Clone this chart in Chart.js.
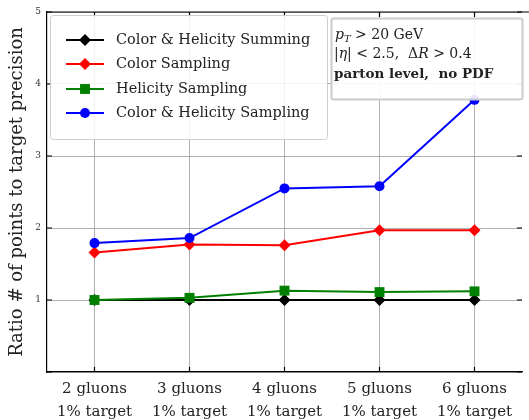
<!DOCTYPE html>
<html>
<head>
<meta charset="utf-8">
<script src="https://cdn.jsdelivr.net/npm/chart.js@4/dist/chart.umd.min.js"></script>
<style>
    html, body { margin: 0; padding: 0; background: #fff; }
    #wrap { width: 529px; height: 420px; position: relative; }
</style>
</head>
<body>
<div id="wrap"><canvas id="ratioChart"></canvas></div>
<script>
// Data
const categories = [
    ['2 gluons', '1% target'],
    ['3 gluons', '1% target'],
    ['4 gluons', '1% target'],
    ['5 gluons', '1% target'],
    ['6 gluons', '1% target']
];
const seriesNames = ['Color & Helicity Summing', 'Color Sampling', 'Helicity Sampling', 'Color & Helicity Sampling'];
const summing = [1.00, 1.00, 1.00, 1.00, 1.00];
const colorSampling = [1.66, 1.77, 1.76, 1.97, 1.97];
const helicitySampling = [1.00, 1.03, 1.13, 1.11, 1.12];
const colorHelicitySampling = [1.79, 1.86, 2.55, 2.58, 3.78];
const yTickValues = [0, 1, 2, 3, 4, 5];

const SERIF = '"DejaVu Serif", "Liberation Serif", serif';

function makeSet(label, data, color, shape, radius, order) {
    return {
        label: label,
        data: data,
        borderColor: color,
        backgroundColor: color,
        borderWidth: 2,
        pointStyle: shape,
        pointRadius: radius,
        pointHoverRadius: radius,
        pointBorderWidth: 0,
        tension: 0,
        order: order
    };
}

const datasets = [
    makeSet(seriesNames[0], summing, '#000000', 'rectRot', 6, 4),
    makeSet(seriesNames[1], colorSampling, '#ff0000', 'rectRot', 6, 3),
    makeSet(seriesNames[2], helicitySampling, '#008000', 'rect', 7, 2),
    makeSet(seriesNames[3], colorHelicitySampling, '#0000ff', 'circle', 5, 1)
];

function drawRuns(ctx, runs, x, y) {
    let cx = x;
    runs.forEach(r => {
        ctx.font = r.font;
        ctx.fillText(r.text, cx, y + (r.dy || 0));
        cx += ctx.measureText(r.text).width;
    });
}

// frame ticks, legend and the cut box
const decorPlugin = {
    id: 'decor',
    afterDraw(chart) {
        const ctx = chart.ctx;
        const area = chart.chartArea;
        const xs = chart.scales.x;
        const ys = chart.scales.y;
        ctx.save();
        ctx.strokeStyle = '#000';
        ctx.lineWidth = 1.2;
        // top frame line
        ctx.beginPath();
        ctx.moveTo(area.left, area.top);
        ctx.lineTo(chart.width, area.top);
        ctx.stroke();
        // inward ticks
        ctx.beginPath();
        for (let i = 0; i < categories.length; i++) {
            const px = xs.getPixelForValue(i);
            ctx.moveTo(px, area.bottom); ctx.lineTo(px, area.bottom - 5);
            ctx.moveTo(px, area.top); ctx.lineTo(px, area.top + 5);
        }
        yTickValues.forEach(v => {
            const py = ys.getPixelForValue(v);
            ctx.moveTo(area.left, py); ctx.lineTo(area.left + 5, py);
            ctx.moveTo(area.right, py); ctx.lineTo(area.right - 5, py);
        });
        ctx.stroke();

        // legend
        const lx = 50, ly = 15, lw = 277, lh = 124;
        ctx.beginPath();
        ctx.roundRect(lx + 0.5, ly + 0.5, lw, lh, 3);
        ctx.fillStyle = 'rgba(255,255,255,0.85)';
        ctx.fill();
        ctx.strokeStyle = '#cccccc';
        ctx.lineWidth = 1;
        ctx.stroke();
        const rowY = [40, 64, 89, 113];
        datasets.forEach((ds, i) => {
            const y = rowY[i];
            ctx.strokeStyle = ds.borderColor;
            ctx.lineWidth = 2;
            ctx.beginPath();
            ctx.moveTo(66, y); ctx.lineTo(104, y);
            ctx.stroke();
            ctx.fillStyle = ds.backgroundColor;
            Chart.helpers.drawPoint(ctx, {
                pointStyle: ds.pointStyle, radius: ds.pointRadius, rotation: 0, borderWidth: 0
            }, 85, y);
            ctx.fillStyle = '#222';
            ctx.textBaseline = 'middle';
            ctx.font = '14.5px ' + SERIF;
            ctx.fillText(ds.label, 116, y);
        });

        // cut box
        const bx = 331, by = 18, bw = 191, bh = 81;
        ctx.beginPath();
        ctx.roundRect(bx + 0.5, by + 0.5, bw, bh, 2);
        ctx.fillStyle = 'rgba(255,255,255,0.9)';
        ctx.fill();
        ctx.strokeStyle = '#cccccc';
        ctx.stroke();
        ctx.fillStyle = '#222';
        ctx.textBaseline = 'alphabetic';
        const reg = '14px ' + SERIF;
        const ita = 'italic 14px ' + SERIF;
        drawRuns(ctx, [
            { text: 'p', font: ita },
            { text: 'T', font: 'italic 10px ' + SERIF, dy: 3 },
            { text: ' > 20 GeV', font: reg }
        ], 335, 39);
        drawRuns(ctx, [
            { text: '|', font: reg },
            { text: 'η', font: ita },
            { text: '| < 2.5,  Δ', font: reg },
            { text: 'R', font: ita },
            { text: ' > 0.4', font: reg }
        ], 334, 58);
        drawRuns(ctx, [
            { text: 'parton level,  no PDF', font: 'bold 13.5px ' + SERIF }
        ], 334, 78);
        ctx.restore();
    }
};

const ctx = document.getElementById('ratioChart').getContext('2d');
const ratioChart = new Chart(ctx, {
    type: 'line',
    data: {
        labels: categories,
        datasets: datasets
    },
    options: {
        responsive: true,
        maintainAspectRatio: false,
        animation: false,
        layout: { padding: { top: 12, right: 4, left: 0, bottom: 0 } },
        plugins: {
            legend: { display: false },
            tooltip: { enabled: false }
        },
        scales: {
            x: {
                offset: true,
                grid: { color: '#b0b0b0', lineWidth: 1, drawTicks: false, offset: false },
                border: { color: '#000', width: 1.2 },
                ticks: {
                    color: '#222',
                    padding: 6,
                    maxRotation: 0,
                    font: { family: SERIF, size: 15, lineHeight: 1.5 }
                },
                afterFit(scale) { scale.height = 48; }
            },
            y: {
                min: 0,
                max: 5,
                grid: { color: '#b0b0b0', lineWidth: 1, drawTicks: false },
                border: { color: '#000', width: 1.2 },
                ticks: {
                    stepSize: 1,
                    padding: 6,
                    color: '#333',
                    font: { family: SERIF, size: 9 },
                    callback: v => (v === 0 ? '' : v)
                },
                title: {
                    display: true,
                    text: 'Ratio # of points to target precision',
                    color: '#222',
                    font: { family: SERIF, size: 18 },
                    padding: { top: 7, bottom: 0 }
                },
                afterFit(scale) { scale.width = 47; }
            }
        }
    },
    plugins: [decorPlugin]
});
</script>
</body>
</html>
